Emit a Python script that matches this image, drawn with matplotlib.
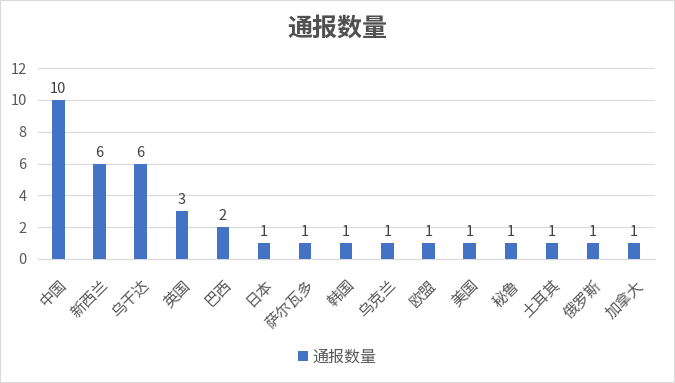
import matplotlib
matplotlib.use("Agg")
import matplotlib.pyplot as plt

plt.rcParams['font.family'] = ['Noto Sans CJK SC', 'DejaVu Sans']

categories = ['中国', '新西兰', '乌干达', '英国', '巴西', '日本', '萨尔瓦多', '韩国',
              '乌克兰', '欧盟', '美国', '秘鲁', '土耳其', '俄罗斯', '加拿大']
values = [10, 6, 6, 3, 2, 1, 1, 1, 1, 1, 1, 1, 1, 1, 1]
yticks = [0, 2, 4, 6, 8, 10, 12]
series_name = '通报数量'

fig = plt.figure(figsize=(6.75, 3.83), dpi=100)
fig.patch.set_facecolor('white')
ax = fig.add_axes([0.056, 0.324, 0.914, 0.498])

x = list(range(len(categories)))
bars = ax.bar(x, values, width=0.3, color='#4472C4', label=series_name, zorder=3)
for xi, v in zip(x, values):
    ax.text(xi, v + 0.25, str(v), ha='center', va='bottom', fontsize=10.5, color='#404040')

ax.set_xlim(-0.5, len(categories) - 0.5)
ax.set_ylim(0, 12)
ax.set_yticks(yticks)
ax.set_yticklabels([str(t) for t in yticks], fontsize=10.5, color='#595959')
ax.yaxis.grid(True, color='#D9D9D9', linewidth=0.8, zorder=0)
ax.tick_params(axis='both', length=0)
ax.tick_params(axis='y', pad=8)
for s in ['top', 'right', 'left']:
    ax.spines[s].set_visible(False)
ax.spines['bottom'].set_color('#D9D9D9')

ax.set_xticks(x)
ax.set_xticklabels(categories, rotation=45, ha='right', rotation_mode='anchor',
                   fontsize=11, color='#595959')
ax.tick_params(axis='x', pad=13)

fig.text(0.5, 0.925, '通报数量', ha='center', va='center', fontsize=18,
         fontweight='bold', color='#505050')

leg = fig.legend(handles=[bars], labels=[series_name], loc='center',
                 bbox_to_anchor=(0.5, 0.068), frameon=False, fontsize=11.5,
                 handlelength=0.6, handleheight=0.6, handletextpad=0.3)
for t in leg.get_texts():
    t.set_color('#595959')

fig.add_artist(plt.Rectangle((0, 0), 1, 1, transform=fig.transFigure, fill=False,
                             edgecolor='#D9D9D9', linewidth=1.5))

fig.savefig('out.png', dpi=100)
